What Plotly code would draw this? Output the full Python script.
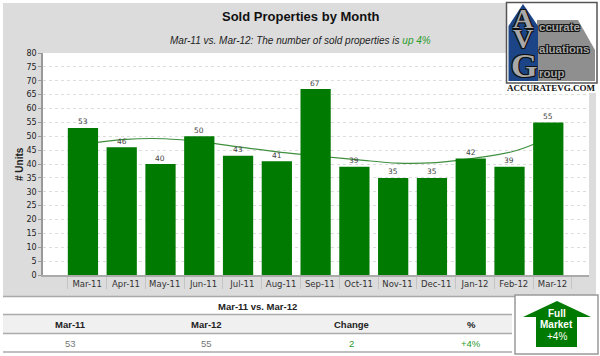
import plotly.graph_objects as go

months = ["Mar-11","Apr-11","May-11","Jun-11","Jul-11","Aug-11","Sep-11","Oct-11","Nov-11","Dec-11","Jan-12","Feb-12","Mar-12"]
sold_units = [53,46,40,50,43,41,67,39,35,35,42,39,55]
trend_units = [47.3,48.9,49.1,47.9,46.0,44.2,42.8,41.5,40.3,40.5,42.1,44.6,50.0]
y_ticks = list(range(0,85,5))
table_headers = ["Mar-11","Mar-12","Change","%"]
table_values = ["53","55","2","+4%"]

W, H = 600, 356
GREEN = "#007a00"
SANS = "Liberation Sans, Arial, sans-serif"
TICKF = "DejaVu Sans, sans-serif"
SERIF = "Liberation Serif, DejaVu Serif, serif"

def px(x): return x / W
def py(y): return 1 - y / H

def rect(x0, y0, x1, y1, fill=None, line=None, lw=1, layer="below"):
    return dict(type="rect", xref="paper", yref="paper", x0=px(x0), x1=px(x1), y0=py(y1), y1=py(y0),
                fillcolor=fill or "rgba(0,0,0,0)", line=dict(color=line or "rgba(0,0,0,0)", width=lw if line else 0), layer=layer)

def hline(x0, x1, y, color="#aaaaaa", lw=1.5, layer="below"):
    return dict(type="line", xref="paper", yref="paper", x0=px(x0), x1=px(x1), y0=py(y), y1=py(y),
                line=dict(color=color, width=lw), layer=layer)

def poly(points, fill, layer="above", line=None):
    d = "M " + " L ".join(f"{px(x):.5f},{py(y):.5f}" for x, y in points) + " Z"
    return dict(type="path", xref="paper", yref="paper", path=d, fillcolor=fill,
                line=dict(color=line or fill, width=0 if not line else 1), layer=layer)

def label(x, y, text, size, color="#222222", family=SANS, **kw):
    return dict(xref="paper", yref="paper", x=px(x), y=py(y), text=text, showarrow=False,
                xanchor=kw.pop("xanchor", "center"), yanchor="middle", borderpad=0, borderwidth=0,
                font=dict(size=size, color=color, family=family, **kw))

fig = go.Figure()
fig.add_trace(go.Scatter(x=months, y=trend_units, mode="lines", xaxis="x", yaxis="y",
                         line=dict(color="#3f8f3f", width=1.2, shape="spline", smoothing=1), hoverinfo="skip"))
fig.add_trace(go.Bar(x=months, y=sold_units, xaxis="x", yaxis="y2", width=0.78, offset=-0.5,
                     marker=dict(color=GREEN, line=dict(width=0))))

shapes = [
    rect(3, 3, 596, 296, fill="#dcdcdc"),
    rect(43, 53, 589, 275, fill="#ffffff"),
    hline(3, 596, 296.5, color="#a8a8a8", lw=1.5),
    # table
    rect(3, 315, 512, 333, fill="#f0f0f0"),
    hline(3, 512, 314.5),
    hline(3, 512, 333.5),
    hline(3, 512, 352),
    # arrow box
    rect(515, 295, 598, 354, fill="#ffffff", line="#999999", lw=1.5, layer="above"),
    poly([(557,301),(591,317),(577,317),(577,347),(536,347),(536,317),(523,317)], GREEN),
    # logo
    rect(506, 2, 597, 93, fill="#ffffff", layer="above"),
    rect(506.5, 2.5, 597, 83, fill="#ffffff", line="#555555", lw=1.5, layer="above"),
    poly([(537,20),(578,20),(595,50),(595,81),(537,81)], "#8f8f8f"),
    poly([(523,4),(538,26),(538,81),(508.5,81),(508.5,26)], "#1c4587"),
]

outline = "1px 1px 0 #111, -1px -1px 0 #111, 1px -1px 0 #111, -1px 1px 0 #111"
logo_letter = dict(family=SERIF, weight="bold", shadow=outline)
logo_word = dict(family=SANS, weight="bold", shadow=outline)
bar_labels = [
    dict(xref="x", yref="y2", x=m, y=v, text=str(v), showarrow=False, xshift=-4.4, yshift=6,
         xanchor="center", yanchor="middle", font=dict(size=7.5, color="#444444", family=TICKF))
    for m, v in zip(months, sold_units)
]
annotations = bar_labels + [
    label(300.5, 17, "Sold Properties by Month", 13, color="#111111", weight="bold"),
    label(300.5, 40.5, 'Mar-11 vs. Mar-12: The number of sold properties is <span style="color:#2a9a2a">up 4%</span>', 10, color="#222222", style="italic"),
    dict(xref="paper", yref="paper", x=px(19), y=py(164), text="# Units", textangle=-90, showarrow=False,
         xanchor="center", yanchor="middle", font=dict(size=10, color="#222222", family=SANS, weight="bold")),
    label(257, 306, "Mar-11 vs. Mar-12", 9.5, weight="bold"),
    label(70, 324, table_headers[0], 9.5, weight="bold"),
    label(206, 324, table_headers[1], 9.5, weight="bold"),
    label(351, 324, table_headers[2], 9.5, weight="bold"),
    label(471, 324, table_headers[3], 9.5, weight="bold"),
    label(70, 343, table_values[0], 9.5, color="#777777"),
    label(206, 343, table_values[1], 9.5, color="#777777"),
    label(351, 343, table_values[2], 9.5, color="#2a9a2a"),
    label(471, 343, table_values[3], 9.5, color="#2a9a2a"),
    label(556.5, 313, "Full", 10, color="#ffffff", weight="bold"),
    label(556.5, 324.5, "Market", 10, color="#ffffff", weight="bold"),
    label(556.5, 336, "+4%", 10, color="#ffffff"),
    label(523, 19, "A", 28, color="#a8a8a8", **logo_letter),
    label(523, 38, "V", 28, color="#a8a8a8", **logo_letter),
    label(524, 65, "G", 34, color="#a8a8a8", **logo_letter),
    label(539, 27, "ccurate", 11.5, color="#a8a8a8", xanchor="left", **logo_word),
    label(539, 49, "aluations", 11.5, color="#a8a8a8", xanchor="left", **logo_word),
    label(539, 73, "roup", 11.5, color="#a8a8a8", xanchor="left", **logo_word),
    label(551.5, 88.5, "ACCURATEVG.COM", 9, color="#111111", family=SERIF, weight="bold"),
]

fig.update_layout(
    width=W, height=H, margin=dict(l=0, r=0, t=0, b=0, pad=0, autoexpand=False), autosize=False,
    paper_bgcolor="#ffffff", plot_bgcolor="rgba(0,0,0,0)", showlegend=False,
    xaxis=dict(domain=[px(43), px(589)], type="category", categoryorder="array", categoryarray=months,
               range=[-1.14, 12.94], tickson="boundaries", ticks="outside", ticklen=12, tickcolor="#c4c4c4", tickwidth=1,
               tickfont=dict(size=8.5, color="#333333", family=TICKF), tickangle=0,
               showgrid=False, showline=True, linecolor="#aaaaaa", linewidth=1.5, zeroline=False, fixedrange=True,
               anchor="y"),
    yaxis=dict(domain=[py(275), py(53)], range=[0, 80], tickvals=y_ticks, ticks="outside", ticklen=3, tickcolor="#999999",
               tickfont=dict(size=8, color="#222222", family=TICKF),
               showgrid=True, gridcolor="#dddddd", griddash="dot", gridwidth=1,
               showline=True, linecolor="#999999", linewidth=1.5, zeroline=False, mirror=False, fixedrange=True),
    yaxis2=dict(domain=[py(275), py(53)], range=[0, 80], overlaying="y", visible=False, fixedrange=True),
    shapes=shapes, annotations=annotations, bargap=0.22,
)

fig.write_html("out.html", config=dict(displayModeBar=False), post_script="document.body.style.margin='0';")
